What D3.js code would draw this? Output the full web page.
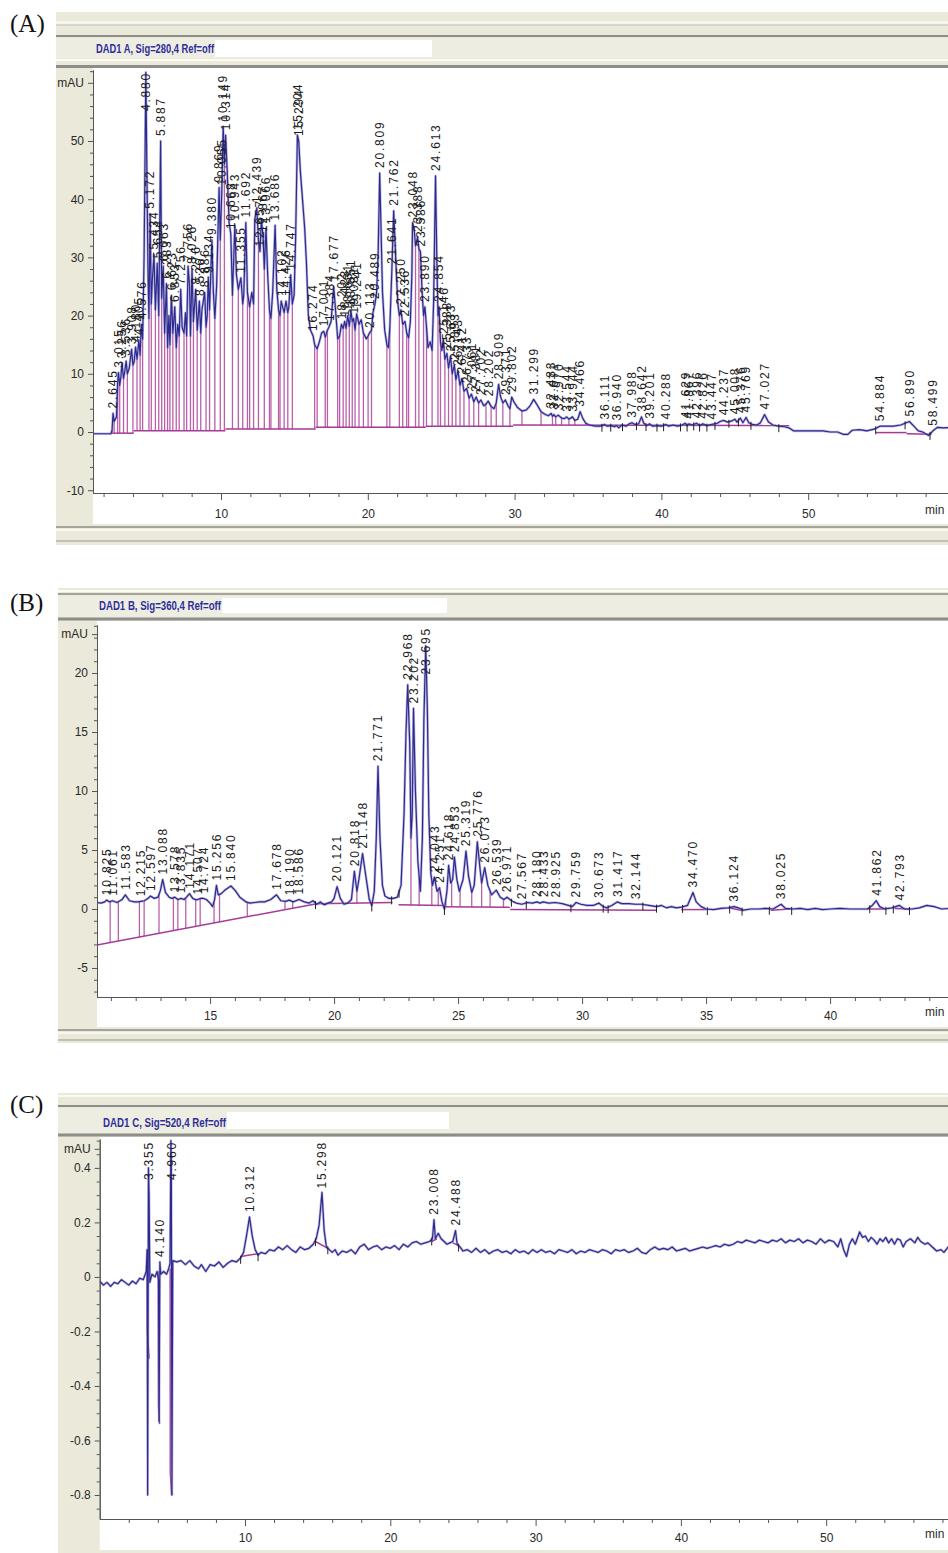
<!DOCTYPE html>
<html>
<head>
<meta charset="utf-8">
<script src="https://cdn.jsdelivr.net/npm/d3@7"></script>
<style>
  html, body { margin: 0; padding: 0; background: #ffffff; }
  svg { display: block; }
</style>
</head>
<body>
<svg id="chart" width="948" height="1553"></svg>
<script>
// ================= DAD1 A (280 nm) =================
// signal vertices [retention time (min), absorbance (mAU)]
const traceA = [
  [1.28,-0.3],[2.50,-0.3],[2.58,0.3],[2.645,3.2],[2.72,1.8],[2.88,2.6],[2.96,8.5],[3.015,10.2],[3.10,8.0],[3.18,9.5],
  [3.256,11.8],[3.36,9.2],[3.45,10.5],[3.536,12.2],[3.62,10.0],[3.75,11.0],[3.908,14.2],[4.00,11.5],[4.08,12.0],[4.180,14.6],
  [4.28,12.5],[4.405,15.8],[4.49,13.2],[4.576,18.5],[4.66,16.0],[4.76,30.0],[4.880,61.8],[4.95,45.0],[5.03,27.0],[5.09,19.5],
  [5.172,37.5],[5.25,22.0],[5.32,26.0],[5.434,30.5],[5.53,21.0],[5.654,29.0],[5.76,20.0],[5.887,50.0],[5.96,23.0],[6.063,28.5],
  [6.16,17.0],[6.283,25.5],[6.36,14.5],[6.45,20.0],[6.52,15.0],[6.623,23.5],[6.72,17.0],[6.853,21.5],[6.95,14.5],[7.05,18.5],
  [7.15,16.5],[7.256,24.5],[7.35,18.0],[7.48,17.0],[7.58,20.5],[7.66,16.5],[7.756,28.5],[7.86,25.0],[7.92,16.5],[8.026,28.0],
  [8.12,19.0],[8.276,24.5],[8.38,17.5],[8.526,22.5],[8.62,17.0],[8.70,21.0],[8.886,24.0],[8.98,18.0],[9.06,20.0],[9.134,26.5],
  [9.22,21.0],[9.380,33.0],[9.48,24.0],[9.58,19.5],[9.70,25.0],[9.869,42.0],[9.95,33.0],[10.055,41.5],[10.149,52.5],[10.23,46.0],
  [10.314,51.0],[10.42,45.0],[10.55,36.0],[10.668,34.0],[10.78,23.5],[10.943,35.5],[11.05,27.0],[11.18,24.5],[11.355,26.5],[11.48,22.0],
  [11.55,23.5],[11.692,36.0],[11.80,24.0],[11.95,21.5],[12.10,24.0],[12.22,22.0],[12.30,36.5],[12.439,38.5],[12.55,33.0],[12.657,31.0],
  [12.75,36.5],[12.867,33.5],[12.95,28.0],[13.066,35.0],[13.18,27.0],[13.30,21.0],[13.40,19.5],[13.52,24.0],[13.686,35.5],[13.80,24.5],
  [13.92,21.0],[14.02,20.0],[14.102,22.5],[14.20,21.5],[14.30,20.5],[14.426,22.5],[14.55,20.5],[14.62,21.5],[14.747,27.0],[14.86,22.0],
  [14.98,23.5],[15.08,33.0],[15.204,51.0],[15.294,50.0],[15.40,45.0],[15.55,40.0],[15.70,35.0],[15.82,29.0],[15.95,20.0],[16.10,17.5],
  [16.274,16.5],[16.38,15.0],[16.55,14.3],[16.70,15.5],[16.85,17.0],[17.001,17.3],[17.10,16.3],[17.25,17.5],[17.384,18.2],[17.50,19.0],
  [17.677,25.0],[17.80,21.0],[17.95,16.0],[18.08,16.5],[18.202,18.5],[18.32,17.8],[18.423,19.0],[18.52,17.8],[18.631,20.0],[18.74,18.2],
  [18.851,20.8],[18.94,19.0],[19.031,19.5],[19.13,17.5],[19.241,20.3],[19.40,18.5],[19.55,19.3],[19.70,17.0],[19.90,16.0],[20.02,16.5],
  [20.113,17.0],[20.25,17.5],[20.35,20.5],[20.489,22.0],[20.60,24.0],[20.70,30.0],[20.809,44.5],[20.90,35.0],[21.00,24.0],[21.15,17.5],
  [21.30,15.0],[21.40,14.5],[21.50,18.0],[21.641,28.0],[21.762,38.0],[21.85,33.0],[21.95,27.0],[22.05,22.0],[22.15,20.0],[22.250,21.0],
  [22.38,18.5],[22.536,19.0],[22.65,17.0],[22.78,16.2],[22.90,19.0],[23.00,27.0],[23.048,36.0],[23.15,35.0],[23.25,32.0],[23.388,33.5],
  [23.48,31.5],[23.586,31.0],[23.70,24.0],[23.80,20.0],[23.890,21.5],[24.00,18.0],[24.10,14.5],[24.25,15.5],[24.38,14.0],[24.48,22.0],
  [24.613,44.0],[24.70,30.0],[24.78,20.0],[24.854,21.5],[24.95,15.5],[25.05,14.0],[25.146,16.0],[25.25,12.5],[25.388,13.5],[25.50,11.0],
  [25.633,13.0],[25.75,10.0],[25.893,11.5],[26.00,9.0],[26.143,10.5],[26.28,8.0],[26.412,9.2],[26.55,7.0],[26.733,7.5],[26.90,5.8],
  [27.061,6.5],[27.22,5.2],[27.381,6.0],[27.55,5.0],[27.702,5.5],[27.90,4.5],[28.05,4.8],[28.202,5.3],[28.40,4.4],[28.60,4.0],
  [28.75,5.0],[28.909,8.2],[29.05,6.0],[29.20,5.0],[29.371,5.5],[29.55,4.5],[29.68,4.0],[29.802,6.0],[29.95,5.2],[30.20,4.2],
  [30.50,3.6],[30.80,3.8],[31.05,4.5],[31.299,5.6],[31.50,4.8],[31.80,3.5],[32.10,3.0],[32.30,2.8],[32.483,3.2],[32.58,2.7],
  [32.671,3.0],[32.80,2.6],[32.970,2.9],[33.20,2.4],[33.40,2.3],[33.544,2.6],[33.70,2.2],[33.944,2.6],[34.10,2.0],[34.30,2.2],
  [34.466,3.5],[34.65,2.3],[34.85,1.5],[35.10,1.2],[35.50,1.0],[35.80,1.0],[36.00,1.1],[36.111,1.3],[36.30,1.0],[36.60,1.1],
  [36.80,0.9],[36.940,1.1],[37.10,0.7],[37.30,1.2],[37.60,1.0],[37.80,1.4],[37.988,1.6],[38.20,1.3],[38.45,1.4],[38.642,2.6],
  [38.80,1.5],[39.00,1.1],[39.201,1.4],[39.40,1.0],[39.70,1.1],[40.00,1.0],[40.288,1.3],[40.50,1.0],[40.80,1.2],[41.10,1.0],
  [41.40,1.2],[41.629,1.5],[41.75,1.1],[41.867,1.4],[42.10,1.2],[42.396,1.5],[42.60,1.1],[42.826,1.4],[43.10,1.1],[43.447,1.3],
  [43.80,1.5],[44.00,1.8],[44.237,2.0],[44.50,1.7],[44.80,1.9],[45.008,2.2],[45.15,1.7],[45.376,2.4],[45.55,1.6],[45.769,2.5],
  [45.95,1.6],[46.20,1.3],[46.50,1.2],[46.75,1.6],[47.027,3.0],[47.30,1.7],[47.60,1.2],[48.00,1.0],[48.40,0.9],[48.70,0.7],
  [49.00,0.2],[49.50,0.2],[50.00,0.2],[50.50,0.2],[51.00,0.2],[51.50,0.0],[52.00,0.0],[52.40,-0.4],[52.70,-0.4],[53.00,0.3],
  [53.50,0.4],[54.00,0.2],[54.50,0.5],[54.884,1.0],[55.30,1.0],[55.80,1.0],[56.30,1.2],[56.60,1.5],[56.890,1.8],[57.20,1.0],
  [57.50,0.2],[57.80,0.0],[58.20,-0.6],[58.499,0.2],[58.80,0.8],[59.20,0.7],[60.00,0.8]
];
// integration baselines [t start, mAU start, t end, mAU end]
const baselineA = [
  [2.58,-0.2,4.05,-0.2],[4.05,0.2,10.30,0.2],[10.30,0.5,16.45,0.5],[16.45,0.8,23.95,0.8],
  [23.95,1.0,29.90,1.0],[29.90,1.2,48.70,1.1],[54.60,-0.1,56.70,-0.1],[56.70,-0.3,58.40,-0.4]
];
// peak-separation drop lines (min)
const dropA = [
  2.58,2.72,2.96,3.10,3.36,3.62,4.00,4.28,4.49,4.66,5.09,5.25,5.53,5.76,5.96,6.16,6.36,6.52,6.72,6.95,
  7.15,7.48,7.66,7.92,8.12,8.38,8.62,8.98,9.22,9.58,9.95,10.23,10.78,11.18,11.48,11.80,11.95,12.22,12.55,12.95,
  13.30,13.40,13.92,14.02,14.30,14.55,14.86,16.38,16.55,17.10,17.25,17.95,18.08,18.32,18.52,18.74,18.94,19.13,19.40,19.70,
  20.02,20.25,21.30,21.50,22.15,22.38,22.65,22.78,23.25,23.48,23.80,24.00,24.38,24.78,24.95,25.25,25.50,25.75,26.00,26.28,
  26.55,26.90,27.22,27.55,28.05,28.40,28.75,29.20,29.68,30.50,31.80,32.58,32.80,33.20,33.70,34.10,34.85
];
// peak start/end event marks (min)
const markA = [35.95,36.55,37.35,38.30,38.95,39.70,40.15,41.30,41.75,42.20,42.60,43.10,43.65,44.60,45.25,46.10,48.00,54.60,56.60,58.30];
const labelsA = [
  "2.645","3.015","3.256","3.536","3.908","4.180","4.405","4.576","4.880","5.172","5.434","5.654","5.887","6.063","6.283",
  "6.623","6.853","7.256","7.756","8.026","8.276","8.526","8.886","9.134","9.380","9.869","10.055","10.149","10.314","10.668",
  "10.943","11.355","11.692","12.439","12.657","12.867","13.066","13.686","14.102","14.426","14.747","15.204","15.294","16.274","17.001",
  "17.384","17.677","18.202","18.423","18.631","18.851","19.031","19.241","20.113","20.489","20.809","21.641","21.762","22.250","22.536",
  "23.048","23.388","23.586","23.890","24.613","24.854","25.146","25.388","25.633","25.893","26.143","26.412","26.733","27.061","27.381",
  "27.702","28.202","28.909","29.371","29.802","31.299","32.483","32.671","32.970","33.544","33.944","34.466","36.111","36.940","37.988",
  "38.642","39.201","40.288","41.629","41.867","42.396","42.826","43.447","44.237","45.008","45.376","45.769","47.027","54.884","56.890","58.499"
];
const xTicksA = [10, 20, 30, 40, 50];
const yTicksA = [-10, 0, 10, 20, 30, 40, 50];

// ================= DAD1 B (360 nm) =================
const traceB = [
  [10.44,0.55],[10.60,0.5],[10.75,0.6],[10.825,0.75],[10.95,0.6],[11.061,0.7],[11.25,0.55],[11.45,0.8],[11.583,1.2],[11.75,0.7],
  [11.95,0.6],[12.10,0.6],[12.215,0.65],[12.35,0.7],[12.50,0.9],[12.597,1.1],[12.75,0.9],[12.90,1.0],[13.00,1.6],[13.088,2.5],
  [13.20,1.4],[13.35,1.0],[13.45,0.9],[13.578,1.0],[13.70,0.8],[13.835,0.9],[13.95,0.8],[14.05,1.0],[14.171,1.3],[14.30,0.9],
  [14.40,0.8],[14.507,0.8],[14.62,0.9],[14.724,0.9],[14.85,0.8],[15.00,0.5],[15.10,0.2],[15.18,0.8],[15.256,2.0],[15.33,1.2],
  [15.45,1.3],[15.60,1.6],[15.840,1.95],[16.00,1.6],[16.20,1.0],[16.45,0.6],[16.60,0.5],[16.80,0.55],[17.00,0.6],[17.20,0.6],
  [17.45,0.8],[17.678,1.2],[17.85,0.7],[18.05,0.65],[18.190,0.75],[18.35,0.6],[18.586,0.8],[18.80,0.6],[19.00,0.5],[19.15,0.7],
  [19.30,0.4],[19.45,0.6],[19.60,0.35],[19.75,0.5],[19.90,0.6],[20.00,0.9],[20.121,1.9],[20.25,0.9],[20.40,0.4],[20.55,0.5],
  [20.70,0.8],[20.818,3.2],[20.92,1.5],[21.00,2.5],[21.148,4.7],[21.30,2.5],[21.42,0.8],[21.52,0.3],[21.62,1.5],[21.70,6.0],
  [21.771,12.1],[21.85,6.0],[21.95,2.0],[22.05,1.1],[22.20,0.9],[22.40,0.9],[22.55,1.0],[22.70,2.0],[22.82,8.0],[22.90,15.0],
  [22.968,19.0],[23.05,14.0],[23.10,6.0],[23.15,8.0],[23.202,17.0],[23.28,10.0],[23.38,4.0],[23.48,1.5],[23.56,6.0],[23.62,16.0],
  [23.695,22.3],[23.76,17.0],[23.82,8.0],[23.90,3.0],[23.97,2.0],[24.043,2.7],[24.15,1.5],[24.251,1.8],[24.35,0.6],[24.45,0.0],
  [24.55,1.5],[24.618,3.7],[24.70,2.2],[24.78,2.5],[24.853,4.4],[24.95,2.5],[25.05,1.5],[25.20,2.5],[25.319,4.9],[25.42,2.8],
  [25.55,1.4],[25.65,2.0],[25.776,5.7],[25.88,3.5],[25.95,2.2],[26.073,3.5],[26.20,2.0],[26.35,1.2],[26.539,1.6],[26.70,1.0],
  [26.85,0.8],[26.971,1.0],[27.15,0.7],[27.35,0.5],[27.567,0.4],[27.80,0.55],[28.00,0.5],[28.180,0.6],[28.30,0.5],[28.433,0.6],
  [28.65,0.5],[28.925,0.55],[29.20,0.45],[29.45,0.3],[29.60,0.2],[29.759,0.55],[29.95,0.4],[30.20,0.3],[30.45,0.3],[30.673,0.5],
  [30.85,0.2],[31.00,0.1],[31.20,0.3],[31.417,0.6],[31.60,0.45],[31.90,0.45],[32.144,0.4],[32.40,0.4],[32.70,0.3],[33.00,0.2],
  [33.20,0.3],[33.40,0.1],[33.60,0.2],[33.80,0.1],[34.00,0.15],[34.25,0.3],[34.470,1.4],[34.60,0.6],[34.80,0.2],[35.00,0.0],
  [35.30,-0.05],[35.60,0.05],[35.90,0.1],[36.124,0.2],[36.30,0.1],[36.50,-0.1],[36.80,0.0],[37.10,0.0],[37.40,0.05],[37.70,0.0],
  [38.025,0.4],[38.20,0.05],[38.50,0.0],[38.80,0.05],[39.10,-0.05],[39.40,0.05],[39.70,-0.05],[40.00,0.0],[40.40,0.05],[40.80,0.0],
  [41.20,0.0],[41.50,0.0],[41.70,0.3],[41.862,0.7],[42.00,0.2],[42.20,0.0],[42.50,0.1],[42.793,0.3],[43.00,0.0],[43.30,0.0],
  [43.60,0.1],[43.90,0.3],[44.20,0.2],[44.50,0.0],[44.80,0.05],[45.50,0.0]
];
const baselineB = [
  [10.44,-3.05,19.30,0.45],[19.30,0.45,22.35,0.55],[22.60,0.35,24.40,0.30],[24.40,0.20,27.10,0.15],
  [27.10,-0.05,33.00,-0.10],[34.00,-0.05,35.00,-0.05],[35.90,0.10,36.50,-0.15],[37.60,-0.10,38.40,0.00],
  [41.50,0.00,42.20,0.00],[42.60,0.05,43.20,0.00]
];
const dropB = [
  10.97,11.30,12.15,12.34,12.94,13.52,13.70,14.02,14.42,14.60,15.16,15.38,16.50,18.02,18.33,20.92,
  23.10,23.43,23.94,24.20,24.50,24.74,25.08,25.55,25.95,26.29,26.83
];
const markB = [19.25,21.52,22.32,22.62,24.45,27.15,27.75,29.55,30.85,31.05,32.45,33.00,34.05,35.05,35.95,36.45,37.55,38.45,41.60,42.25,42.55,43.20];
const labelsB = [
  "10.825","11.061","11.583","12.215","12.597","13.088","13.578","13.835","14.171","14.507","14.724","15.256","15.840",
  "17.678","18.190","18.586","20.121","20.818","21.148","21.771","22.968","23.202","23.695","24.043","24.251","24.618",
  "24.853","25.319","25.776","26.073","26.539","26.971","27.567","28.180","28.433","28.925","29.759","30.673","31.417",
  "32.144","34.470","36.124","38.025","41.862","42.793"
];
const xTicksB = [15, 20, 25, 30, 35, 40];
const yTicksB = [-5, 0, 5, 10, 15, 20];

// ================= DAD1 C (520 nm) =================
const traceC = [
  [0.00,-0.015],[0.25,-0.03],[0.50,-0.02],[0.75,-0.035],[1.00,-0.02],[1.25,-0.025],[1.50,-0.01],[1.75,-0.02],[2.00,-0.03],[2.25,-0.015],
  [2.50,-0.025],[2.75,-0.005],[3.00,-0.01],[3.20,0.02],[3.27,0.10],[3.30,-0.80],[3.355,0.40],[3.40,0.30],[3.45,-0.02],[3.60,0.01],
  [3.80,0.00],[3.95,0.02],[4.05,-0.01],[4.09,-0.53],[4.140,0.055],[4.20,0.01],[4.40,0.02],[4.60,0.01],[4.75,0.03],[4.84,0.05],
  [4.90,0.50],[4.93,0.42],[4.97,-0.80],[5.00,-0.35],[5.03,0.06],[5.30,0.055],[5.60,0.06],[5.90,0.045],[6.20,0.06],[6.50,0.04],
  [6.80,0.03],[7.00,0.045],[7.30,0.02],[7.60,0.045],[7.90,0.04],[8.20,0.055],[8.50,0.035],[8.80,0.05],[9.10,0.06],[9.40,0.055],
  [9.70,0.07],[9.90,0.09],[10.10,0.15],[10.312,0.22],[10.50,0.15],[10.70,0.10],[10.90,0.08],[11.10,0.09],[11.40,0.085],[11.70,0.10],
  [12.00,0.095],[12.30,0.11],[12.60,0.10],[12.90,0.115],[13.20,0.10],[13.50,0.09],[13.80,0.11],[14.10,0.10],[14.40,0.105],[14.70,0.12],
  [14.90,0.14],[15.10,0.19],[15.298,0.31],[15.45,0.17],[15.60,0.11],[15.80,0.10],[16.00,0.09],[16.20,0.10],[16.40,0.08],[16.70,0.095],
  [17.00,0.09],[17.30,0.10],[17.60,0.085],[17.90,0.11],[18.20,0.12],[18.50,0.10],[18.80,0.11],[19.10,0.115],[19.40,0.10],[19.70,0.11],
  [20.00,0.105],[20.30,0.115],[20.60,0.10],[20.90,0.12],[21.20,0.11],[21.50,0.125],[21.80,0.13],[22.10,0.12],[22.40,0.125],[22.70,0.13],
  [22.90,0.14],[23.008,0.21],[23.10,0.14],[23.30,0.16],[23.50,0.14],[23.70,0.13],[23.90,0.12],[24.10,0.125],[24.30,0.13],[24.488,0.17],
  [24.60,0.12],[24.80,0.11],[25.00,0.095],[25.30,0.10],[25.60,0.09],[25.90,0.105],[26.20,0.09],[26.50,0.10],[26.80,0.085],[27.10,0.095],
  [27.40,0.10],[27.70,0.09],[28.00,0.095],[28.30,0.085],[28.60,0.10],[28.90,0.09],[29.20,0.095],[29.50,0.085],[29.80,0.10],[30.10,0.09],
  [30.40,0.10],[30.70,0.09],[31.00,0.095],[31.30,0.085],[31.60,0.10],[31.90,0.095],[32.20,0.09],[32.50,0.10],[32.80,0.085],[33.10,0.095],
  [33.40,0.09],[33.70,0.10],[34.00,0.095],[34.30,0.09],[34.60,0.10],[34.90,0.095],[35.20,0.085],[35.50,0.10],[35.80,0.095],[36.10,0.10],
  [36.40,0.09],[36.70,0.095],[37.00,0.105],[37.30,0.09],[37.60,0.085],[37.90,0.10],[38.20,0.11],[38.50,0.10],[38.80,0.105],[39.10,0.10],
  [39.40,0.11],[39.70,0.095],[40.00,0.10],[40.30,0.105],[40.60,0.095],[40.90,0.10],[41.20,0.105],[41.50,0.11],[41.80,0.105],[42.10,0.11],
  [42.40,0.115],[42.70,0.11],[43.00,0.12],[43.30,0.115],[43.60,0.12],[43.90,0.13],[44.20,0.125],[44.50,0.135],[44.80,0.13],[45.10,0.125],
  [45.40,0.135],[45.70,0.13],[46.00,0.125],[46.30,0.135],[46.60,0.13],[46.90,0.14],[47.20,0.125],[47.50,0.135],[47.80,0.13],[48.10,0.14],
  [48.40,0.125],[48.70,0.135],[49.00,0.13],[49.30,0.12],[49.60,0.14],[49.90,0.125],[50.20,0.135],[50.50,0.13],[50.80,0.11],[51.00,0.14],
  [51.20,0.10],[51.40,0.075],[51.60,0.12],[51.80,0.14],[52.00,0.12],[52.30,0.165],[52.50,0.145],[52.70,0.15],[52.90,0.13],[53.10,0.145],
  [53.30,0.135],[53.50,0.12],[53.70,0.14],[53.90,0.13],[54.10,0.145],[54.30,0.125],[54.50,0.14],[54.70,0.12],[54.90,0.14],[55.10,0.135],
  [55.30,0.11],[55.50,0.13],[55.80,0.14],[56.10,0.125],[56.30,0.145],[56.50,0.13],[56.80,0.12],[57.00,0.125],[57.30,0.11],[57.60,0.095],
  [57.90,0.10],[58.10,0.09],[58.40,0.11],[59.00,0.11]
];
const baselineC = [
  [9.70,0.075,10.90,0.085],[14.85,0.13,15.70,0.105],[22.85,0.13,23.20,0.14],[24.30,0.125,24.70,0.115]
];
// integration paths drawn under the negative excursions [t, mAU]
const negBaseC = [
  [[3.27,0.10],[3.28,-0.20],[3.40,-0.30]],
  [[4.03,0.02],[4.05,-0.48],[4.12,-0.54]],
  [[4.85,0.03],[4.86,-0.72],[4.95,-0.80]]
];
const dropC = [];
const markC = [9.70,10.90,14.85,15.70,22.85,24.70];
const labelsC = ["3.355","4.140","4.960","10.312","15.298","23.008","24.488"];
const xTicksC = [10, 20, 30, 40, 50];
const yTicksC = [-0.8, -0.6, -0.4, -0.2, 0, 0.2, 0.4];

// ================= drawing =================
const svg = d3.select("#chart");
const BEIGE = "#ebe9da", STRIP = "#eeede2", DARK = "#8d8d89", LIGHT = "#fbfbf6", MIDGREY = "#c3c3bb";
const TRACE = "#2c2a8e", HALO = "#8a80c8", DROP = "#b24fa3", BASE = "#a63a96", INK = "#1c1c1c";
const SANS = "'Liberation Sans', Arial, sans-serif";

function valueAt(trace, t) {
  const i = d3.bisector(d => d[0]).left(trace, t);
  if (i <= 0) return trace[0][1];
  if (i >= trace.length) return trace[trace.length - 1][1];
  const a = trace[i - 1], b = trace[i];
  return a[1] + (b[1] - a[1]) * (t - a[0]) / (b[0] - a[0]);
}
function baselineAt(segs, t) {
  for (const s of segs) if (t >= s[0] && t <= s[2]) return s[1] + (s[3] - s[1]) * (t - s[0]) / (s[2] - s[0]);
  return null;
}
function hline(g, x0, x1, y, color, w) {
  g.append("line").attr("x1", x0).attr("x2", x1).attr("y1", y).attr("y2", y)
    .attr("stroke", color).attr("stroke-width", w);
}

function drawPanel(p, idx) {
  const g = svg.append("g");
  // panel letter
  g.append("text").attr("x", 10).attr("y", p.letterY)
    .attr("font-family", "'Liberation Serif', 'Times New Roman', serif").attr("font-size", 25)
    .attr("fill", "#111").text(p.letter);

  // window chrome
  g.append("rect").attr("x", p.fx).attr("y", p.fy).attr("width", 948 - p.fx).attr("height", p.fb - p.fy).attr("fill", BEIGE);
  g.append("rect").attr("x", p.fx).attr("y", p.strip[0]).attr("width", 948 - p.fx).attr("height", p.strip[1] - p.strip[0]).attr("fill", STRIP);
  p.header.forEach(h => hline(g, p.fx, 948, h[0], h[1], h[2]));
  p.footer.forEach(h => hline(g, p.fx, 948, h[0], h[1], h[2]));
  g.append("rect").attr("x", p.box[0]).attr("y", p.box[1]).attr("width", p.box[2] - p.box[0]).attr("height", p.box[3] - p.box[1]).attr("fill", "#ffffff");
  g.append("text").attr("x", p.titleX).attr("y", p.titleY)
    .attr("font-family", SANS).attr("font-weight", "bold").attr("font-size", 12)
    .attr("fill", "#2f2f9c").attr("textLength", p.box[0] - p.titleX - 1).attr("lengthAdjust", "spacingAndGlyphs")
    .text(p.title);

  const x = d3.scaleLinear().domain(p.xDomain).range(p.xRange);
  const y = d3.scaleLinear().domain(p.yDomain).range(p.yRange);
  const x0 = p.xRange[0], yAxisY = p.yRange[0], yTop = p.yRange[1];

  // white plotting area
  g.append("rect").attr("x", x0).attr("y", p.plotTop).attr("width", 948 - x0).attr("height", p.plotBottom - p.plotTop).attr("fill", "#ffffff");

  const clipId = "clip" + idx;
  svg.append("clipPath").attr("id", clipId).append("rect")
    .attr("x", x0).attr("y", yTop).attr("width", 948 - x0).attr("height", yAxisY - yTop);
  const plot = g.append("g").attr("clip-path", `url(#${clipId})`);

  // drop lines from the signal to the integration baseline
  p.drops.forEach(t => {
    const b = baselineAt(p.baseline, t);
    if (b === null) return;
    plot.append("line").attr("x1", x(t)).attr("x2", x(t))
      .attr("y1", y(valueAt(p.trace, t))).attr("y2", y(b))
      .attr("stroke", DROP).attr("stroke-width", 1.3).attr("opacity", 0.9);
  });
  // integration baselines
  p.baseline.forEach(s => {
    plot.append("line").attr("x1", x(s[0])).attr("x2", x(s[2])).attr("y1", y(s[1])).attr("y2", y(s[3]))
      .attr("stroke", BASE).attr("stroke-width", 1.5);
  });
  const line = d3.line().x(d => x(d[0])).y(d => y(d[1]));
  (p.negBase || []).forEach(seg => {
    plot.append("path").attr("d", line(seg)).attr("fill", "none").attr("stroke", BASE).attr("stroke-width", 1.5);
  });

  // signal
  plot.append("path").datum(p.trace).attr("d", line).attr("fill", "none")
    .attr("stroke", HALO).attr("stroke-width", 2.6).attr("opacity", 0.55).attr("stroke-linejoin", "round");
  plot.append("path").datum(p.trace).attr("d", line).attr("fill", "none")
    .attr("stroke", TRACE).attr("stroke-width", 1.2).attr("stroke-linejoin", "round");

  // peak start/end event marks
  p.marks.forEach(t => {
    const yy = y(valueAt(p.trace, t));
    plot.append("line").attr("x1", x(t)).attr("x2", x(t)).attr("y1", yy - 2).attr("y2", yy + 6)
      .attr("stroke", "#222").attr("stroke-width", 1);
  });

  // retention-time labels, rotated, sitting on each apex
  p.labels.forEach(s => {
    const t = +s;
    let top = valueAt(p.trace, t);
    p.trace.forEach(d => { if (Math.abs(d[0] - t) <= 0.05 && d[1] > top) top = d[1]; });
    const xt = x(t) + 4.3;
    const txt = plot.append("text").attr("font-family", SANS).attr("font-size", 12)
      .attr("letter-spacing", 1.8).attr("fill", INK).text(s);
    const len = txt.node().getComputedTextLength();
    const yb = Math.max(y(top) - 5, yTop + len + 2);
    txt.attr("transform", `translate(${xt},${yb}) rotate(-90)`);
  });

  // axes
  const axisColor = "#555";
  const xMajor = d3.axisBottom(x).tickValues(p.xTicks).tickSize(7).tickSizeOuter(0).tickPadding(p.xPad).tickFormat(v => String(v));
  const xMinor = d3.axisBottom(x).tickValues(d3.range(p.xDomain[0] < 2 ? 2 : Math.ceil(p.xDomain[0]), p.xDomain[1], p.xMinorStep).filter(v => !p.xTicks.includes(v)))
    .tickSize(4).tickSizeOuter(0).tickFormat("");
  const gx2 = g.append("g").attr("transform", `translate(0,${yAxisY})`).call(xMinor);
  const gx = g.append("g").attr("transform", `translate(0,${yAxisY})`).call(xMajor);
  [gx, gx2].forEach(a => {
    a.selectAll("path,line").attr("stroke", axisColor);
    a.selectAll("text").attr("font-family", SANS).attr("font-size", 12).attr("fill", "#2a2a2a");
  });
  // unit of the time axis, kept inside the right edge
  g.append("text").attr("x", 925).attr("y", yAxisY + p.xPad + 11.5)
    .attr("font-family", SANS).attr("font-size", 12).attr("fill", "#2a2a2a").text("min");

  const yMajorVals = p.yTicks.concat([p.unitAt]);
  const yMajor = d3.axisLeft(y).tickValues(yMajorVals).tickSize(5).tickSizeOuter(0).tickPadding(4)
    .tickFormat(v => v === p.unitAt ? "mAU" : p.yFmt(v));
  const minorVals = d3.range(p.yMinor[0], p.yMinor[1], p.yMinor[2])
    .filter(v => !p.yTicks.some(m => Math.abs(m - v) < 1e-6) && Math.abs(v - p.unitAt) > 1e-6);
  const yMinor = d3.axisLeft(y).tickValues(minorVals).tickSize(3).tickSizeOuter(0).tickFormat("");
  const gy2 = g.append("g").attr("transform", `translate(${x0},0)`).call(yMinor);
  const gy = g.append("g").attr("transform", `translate(${x0},0)`).call(yMajor);
  [gy, gy2].forEach(a => {
    a.selectAll("path,line").attr("stroke", axisColor);
    a.selectAll("text").attr("font-family", SANS).attr("font-size", 12).attr("fill", "#2a2a2a");
  });
}

const intFmt = v => String(v);
const decFmt = v => (Math.abs(v) < 1e-9 ? "0" : v.toFixed(1));

const panels = [
  {
    letter: "(A)", letterY: 32, title: "DAD1 A, Sig=280,4 Ref=off",
    fx: 56, fy: 12, fb: 545, strip: [38, 58],
    header: [[22.5, LIGHT, 2], [25, MIDGREY, 1.2], [36, DARK, 2.2], [60, LIGHT, 2], [66.5, DARK, 3]],
    footer: [[527, DARK, 1.5], [530, LIGHT, 1.5], [541, "#b0b0aa", 1.5]],
    box: [215, 40, 432, 57], titleX: 96, titleY: 53, plotTop: 68, plotBottom: 524,
    xDomain: [1.28, 60], xRange: [93, 955], yDomain: [-10.48, 62.2], yRange: [493, 70],
    xTicks: xTicksA, xMinorStep: 2, xPad: 9.5, yTicks: yTicksA, yMinor: [-10, 62.01, 2], unitAt: 60, yFmt: intFmt,
    trace: traceA, baseline: baselineA, drops: dropA, marks: markA, labels: labelsA
  },
  {
    letter: "(B)", letterY: 611, title: "DAD1 B, Sig=360,4 Ref=off",
    fx: 58, fy: 588, fb: 1043, strip: [596, 617],
    header: [[591, LIGHT, 2], [594, DARK, 1.5], [619, DARK, 3]],
    footer: [[1030, DARK, 1.5], [1033, LIGHT, 1.5], [1040, "#b0b0aa", 1.5]],
    box: [222, 598, 447, 613], titleX: 99, titleY: 610, plotTop: 621, plotBottom: 1027,
    xDomain: [10.44, 45.5], xRange: [97, 966.5], yDomain: [-7.46, 24.07], yRange: [997, 625],
    xTicks: xTicksB, xMinorStep: 1, xPad: 7.5, yTicks: yTicksB, yMinor: [-7, 24.01, 1], unitAt: 23.3, yFmt: intFmt,
    trace: traceB, baseline: baselineB, drops: dropB, marks: markB, labels: labelsB
  },
  {
    letter: "(C)", letterY: 1113, title: "DAD1 C, Sig=520,4 Ref=off",
    fx: 58, fy: 1093, fb: 1553, strip: [1108, 1133],
    header: [[1096, LIGHT, 2], [1106, DARK, 2], [1135, DARK, 3]],
    footer: [],
    box: [227, 1112, 449, 1129], titleX: 103, titleY: 1127, plotTop: 1137, plotBottom: 1550,
    xDomain: [0, 60], xRange: [99.7, 971.5], yDomain: [-0.888, 0.506], yRange: [1519, 1139],
    xTicks: xTicksC, xMinorStep: 2, xPad: 7.5, yTicks: yTicksC, yMinor: [-0.85, 0.501, 0.05], unitAt: 0.47, yFmt: decFmt,
    trace: traceC, baseline: baselineC, negBase: negBaseC, drops: dropC, marks: markC, labels: labelsC
  }
];

panels.forEach(drawPanel);
</script>
</body>
</html>
